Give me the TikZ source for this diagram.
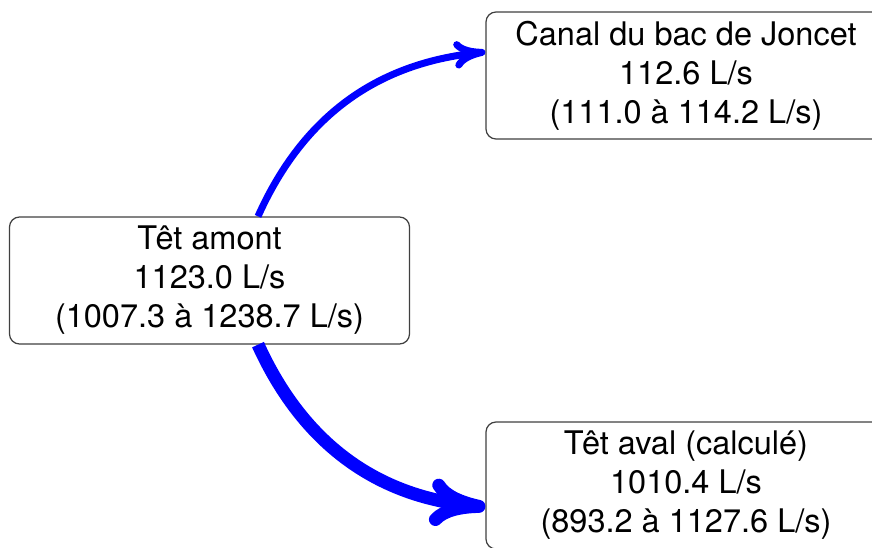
\documentclass[tikz,border=0pt]{standalone}
\usepackage{fontspec}
\setmainfont{TeX Gyre Heros}
\usetikzlibrary{arrows.meta}

\begin{document}
\begin{tikzpicture}[x=0.4pt,y=-0.4pt,line cap=round,line join=round,
    station/.style={draw=black!75,line width=.5pt,rounded corners=4pt,
      fill=white,align=center,minimum width=160pt,minimum height=50.8pt,
      inner sep=2pt,font=\fontsize{13}{15.6}\selectfont},
    flow/.style={draw=blue,line cap=butt,line width=#1}]
    \useasboundingbox (0,0) rectangle (872,547);
    \clip (0,0) rectangle (872,547);

    % The gauging points on the river and the canal.
    \node[station] (amont) at (209.5,280.5)
      {Têt amont\\1123.0 L/s\\(1007.3 à 1238.7 L/s)};
    \node[station] (joncet) at (686,75.5)
      {Canal du bac de Joncet\\112.6 L/s\\(111.0 à 114.2 L/s)};
    \node[station] (aval) at (686,485.5)
      {Têt aval (calculé)\\1010.4 L/s\\(893.2 à 1127.6 L/s)};

    % Flows leaving the upstream point, width after the discharge.
    \draw[flow=2.8pt,-{Computer Modern Rightarrow[round,length=12.5pt,width=11pt]}]
      ([xshift=19.4pt]amont.north) to[bend left=30] ([yshift=9.4pt]joncet.west);
    \draw[flow=5.2pt,-{Computer Modern Rightarrow[round,length=22pt,width=19pt]}]
      ([xshift=19.4pt]amont.south) to[bend right=30] ([yshift=-8.6pt]aval.west);
  \end{tikzpicture}
\end{document}
